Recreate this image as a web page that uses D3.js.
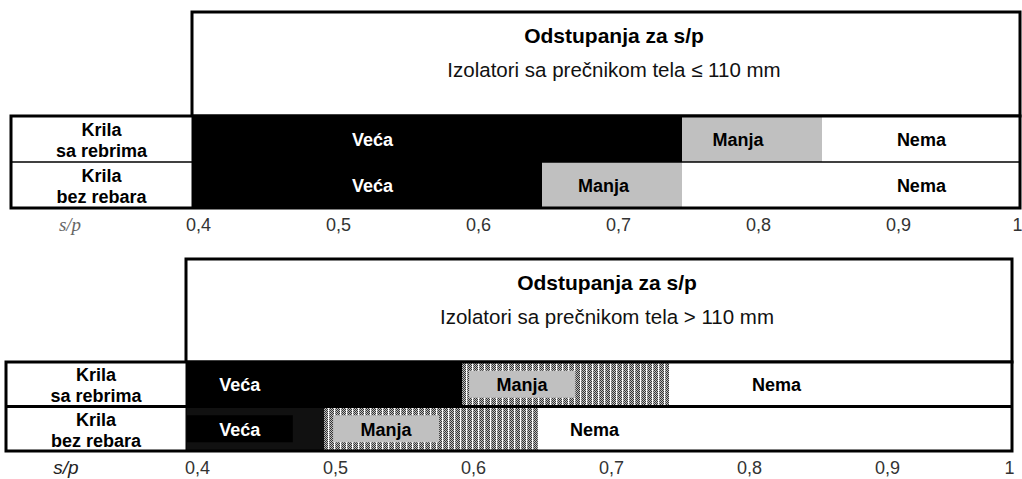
<!DOCTYPE html>
<html>
<head>
<meta charset="utf-8">
<script src="https://cdn.jsdelivr.net/npm/d3@7"></script>
<style>
  html, body { margin: 0; padding: 0; background: #fff; }
  svg { display: block; }
  text { font-family: "Liberation Sans", Arial, sans-serif; }
</style>
</head>
<body>
<svg id="chart" width="1022" height="479"></svg>
<script>
// ---------- DATA ----------
const categories = [["Krila", "sa rebrima"], ["Krila", "bez rebara"]];
const classes = ["Veća", "Manja", "Nema"];
const tickValues = [0.4, 0.5, 0.6, 0.7, 0.8, 0.9, 1];
const tickLabels = ["0,4", "0,5", "0,6", "0,7", "0,8", "0,9", "1"];
const axisName = "s/p";

const titleText = "Odstupanja za s/p";
const subtitleSmall = "Izolatori sa prečnikom tela ≤ 110 mm";
const subtitleLarge = "Izolatori sa prečnikom tela > 110 mm";

// class boundaries in s/p (start of Veća, start of Manja, start of Nema, end)
const limitsSmall = [[0.4, 0.75, 0.85, 1], [0.4, 0.65, 0.75, 1]];
const limitsLarge = [[0.4, 0.60, 0.75, 1], [0.4, 0.50, 0.655, 1]];
// where each class name is written, in s/p units
const labelAtSmall = [[0.529, 0.79, 0.921], [0.529, 0.694, 0.921]];
const labelAtLarge = [[0.439, 0.6435, 0.828], [0.439, 0.545, 0.696]];

// ---------- DRAW ----------
const svg = d3.select("#chart");
const defs = svg.append("defs");
const pat = defs.append("pattern").attr("id", "dith")
  .attr("width", 6).attr("height", 2).attr("patternUnits", "userSpaceOnUse");
pat.append("rect").attr("width", 6).attr("height", 2).attr("fill", "#bdbdbd");
[[0,0],[1,1],[2,0],[3,1]].forEach(([cx, cy]) =>
  pat.append("rect").attr("x", cx).attr("y", cy).attr("width", 1).attr("height", 1).attr("fill", "#333"));
pat.append("rect").attr("x", 4).attr("y", 0).attr("width", 1).attr("height", 2).attr("fill", "#ffffff");
pat.append("rect").attr("x", 5).attr("y", 1).attr("width", 1).attr("height", 1).attr("fill", "#666");

function drawChart(cfg) {
  const L = cfg.layout;
  const g = svg.append("g");
  const x = d3.scaleLinear().domain([tickValues[0], tickValues[tickValues.length - 1]]).range(L.rangeX);
  const rowsBottom = L.rowsTop + L.rowH * categories.length;

  // title box
  g.append("rect").attr("x", L.split).attr("y", L.titleTop)
    .attr("width", L.right - L.split).attr("height", L.rowsTop - L.titleTop)
    .attr("fill", "#fff").attr("stroke", "#000").attr("stroke-width", 3);
  const tcx = (L.split + L.right) / 2 + 8;
  g.append("text").attr("x", tcx).attr("y", L.titleTop + 31).attr("text-anchor", "middle")
    .attr("font-size", 21).attr("font-weight", "bold").attr("fill", "#000").text(titleText);
  g.append("text").attr("x", tcx).attr("y", L.titleTop + 65).attr("text-anchor", "middle")
    .attr("font-size", 20.5).attr("fill", "#111").text(cfg.subtitle);

  // bars
  categories.forEach((cat, r) => {
    const y0 = L.rowsTop + r * L.rowH;
    const lim = cfg.limits[r];
    classes.forEach((cls, k) => {
      const x0 = k === 0 ? L.split : x(lim[k]);
      const x1 = k === classes.length - 1 ? L.right : Math.min(x(lim[k + 1]), L.right);
      g.append("rect").attr("x", x0).attr("y", y0).attr("width", x1 - x0).attr("height", L.rowH)
        .attr("fill", cfg.fills[r][k]);
    });
    classes.forEach((cls, k) => {
      const lx = x(cfg.labelAt[r][k]);
      const cy = y0 + L.rowH / 2;
      const bf = cfg.boxes[r][k];
      if (bf) {
        g.append("rect").attr("x", lx - 53).attr("y", cy - 13.5).attr("width", 106).attr("height", 27)
          .attr("fill", bf);
      }
      g.append("text").attr("x", lx).attr("y", cy + 1).attr("text-anchor", "middle")
        .attr("dominant-baseline", "central").attr("font-size", 18).attr("font-weight", "bold")
        .attr("fill", k === 0 ? "#fff" : "#000").text(cls);
    });
    // category label cell
    g.append("rect").attr("x", L.left).attr("y", y0).attr("width", L.split - L.left).attr("height", L.rowH)
      .attr("fill", "#fff");
    const ccx = (L.left + L.split) / 2;
    g.append("text").attr("x", ccx).attr("y", y0 + L.rowH / 2 - 9).attr("text-anchor", "middle")
      .attr("dominant-baseline", "central").attr("font-size", 18).attr("font-weight", "bold").text(cat[0]);
    g.append("text").attr("x", ccx).attr("y", y0 + L.rowH / 2 + 12).attr("text-anchor", "middle")
      .attr("dominant-baseline", "central").attr("font-size", 18).attr("font-weight", "bold").text(cat[1]);
  });

  // row dividers + frame
  for (let r = 1; r < categories.length; r++) {
    const yy = L.rowsTop + r * L.rowH;
    g.append("line").attr("x1", L.left).attr("x2", L.right).attr("y1", yy).attr("y2", yy)
      .attr("stroke", "#000").attr("stroke-width", L.divW);
  }
  g.append("line").attr("x1", L.split).attr("x2", L.split).attr("y1", L.rowsTop).attr("y2", rowsBottom)
    .attr("stroke", "#000").attr("stroke-width", 1);
  g.append("rect").attr("x", L.left).attr("y", L.rowsTop).attr("width", L.right - L.left)
    .attr("height", rowsBottom - L.rowsTop).attr("fill", "none").attr("stroke", "#000").attr("stroke-width", 3);

  // axis
  const axis = d3.axisBottom(x).tickValues(tickValues)
    .tickFormat((d, i) => tickLabels[i]).tickSize(0);
  const ag = g.append("g").attr("transform", `translate(0,${L.axisY})`).call(axis);
  ag.select(".domain").remove();
  ag.selectAll("text")
    .attr("y", 0).attr("dy", 0)
    .attr("x", d => Math.min(x(d) + L.tickDx, L.right - 3) - x(d))
    .attr("font-size", 18).attr("fill", "#333");

  g.append("text").attr("x", L.spX).attr("y", L.axisY).attr("text-anchor", "middle")
    .style("font-family", cfg.spFont).attr("font-style", "italic")
    .attr("font-size", cfg.spSize).attr("fill", cfg.spColor).text(axisName);
}

drawChart({
  limits: limitsSmall, labelAt: labelAtSmall, subtitle: subtitleSmall,
  fills: [["#000", "#c0c0c0", "#fff"], ["#000", "#c0c0c0", "#fff"]],
  boxes: [[null, null, null], [null, null, null]],
  spFont: "'Liberation Serif', 'DejaVu Serif', serif", spSize: 19, spColor: "#666",
  layout: { left: 11, split: 192, right: 1020, titleTop: 12, rowsTop: 116, rowH: 46,
            rangeX: [192, 1032], tickDx: 6, axisY: 231, divW: 1.5, spX: 70 }
});

drawChart({
  limits: limitsLarge, labelAt: labelAtLarge, subtitle: subtitleLarge,
  fills: [["#000", "url(#dith)", "#fff"], ["#111", "url(#dith)", "#fff"]],
  boxes: [[null, "#c0c0c0", null], ["#000", "#c0c0c0", null]],
  spFont: "'Liberation Sans', Arial, sans-serif", spSize: 19, spColor: "#222",
  layout: { left: 6, split: 186, right: 1012, titleTop: 259, rowsTop: 362, rowH: 44.5,
            rangeX: [186, 1014], tickDx: 11, axisY: 474, divW: 3, spX: 66 }
});
</script>
</body>
</html>
